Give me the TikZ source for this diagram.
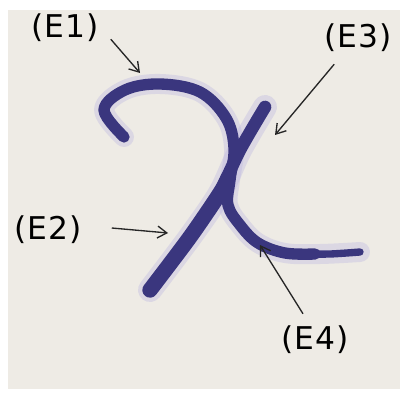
\documentclass[tikz,border=0pt]{standalone}
\usepackage{fontspec}
\newfontfamily\tagfont[LetterSpace=3]{DejaVu Sans}
\usetikzlibrary{arrows.meta}
\definecolor{paper}{RGB}{238,235,229}
\definecolor{ink}{RGB}{58,54,126}
\definecolor{halo}{RGB}{185,180,225}
\begin{document}
\begin{tikzpicture}
 [x=0.75pt, y=-0.75pt,
  tag node/.style={font=\tagfont\fontsize{23.5}{23.5}\selectfont, inner sep=0pt},
  pointer/.style={-{Straight Barb[length=7pt,width=9pt]}, line width=1pt, black!85},
  ink stroke/.style={draw=ink, line width=#1, line cap=round, line join=round},
  halo stroke/.style={draw=halo, opacity=0.35, line width=#1, line cap=round, line join=round}]

\fill[white] (0,0) rectangle (403,395);
\fill[paper] (8,10) rectangle (400,389);
\useasboundingbox (0,0) rectangle (403,395);

% the handwritten letter
\draw[halo stroke=15pt] plot[smooth, tension=0.6] coordinates {(124,137) (104,110) (125,90) (160,84) (200,92) (226,118) (234,148) (230,180) (228,205) (240,225) (258,243) (285,253) (320,254) (360,252)};
\draw[halo stroke=18pt] plot[smooth] coordinates {(265,107) (240,150) (220,193) (190,237) (150,290)};
\draw[ink stroke=8.5pt] plot[smooth, tension=0.6] coordinates {(124,137) (104,110) (125,90) (160,84) (200,92) (226,118) (234,148) (230,180) (228,205) (240,225) (258,243) (285,253) (315,254)};
\draw[ink stroke=5.5pt] plot[smooth] coordinates {(300,254) (330,254) (360,252)};
\draw[ink stroke=9.5pt] plot[smooth] coordinates {(265,107) (240,150) (220,193)};
\draw[ink stroke=11.5pt] plot[smooth] coordinates {(228,178) (220,193) (190,237) (150,290)};

% labels
\node[tag node] (e1) at (65,28) {(E1)};
\node[tag node] (e3) at (358,38) {(E3)};
\node[tag node] (e2) at (48,230) {(E2)};
\node[tag node] (e4) at (315,340) {(E4)};

\coordinate (e1 tip) at (140,73);
\coordinate (e3 tip) at (275,135);
\coordinate (e2 tip) at (168,233);
\coordinate (e4 tip) at (260,245);

\draw[pointer] ([shift={(12,-3)}]e1.south east) -- (e1 tip);
\draw[pointer] ([shift={(10,12)}]e3.south west) -- (e3 tip);
\draw[pointer] ([shift={(30,-2)}]e2.east) -- (e2 tip);
\draw[pointer] ([shift={(-12,-12)}]e4.north) -- (e4 tip);

\end{tikzpicture}
\end{document}
